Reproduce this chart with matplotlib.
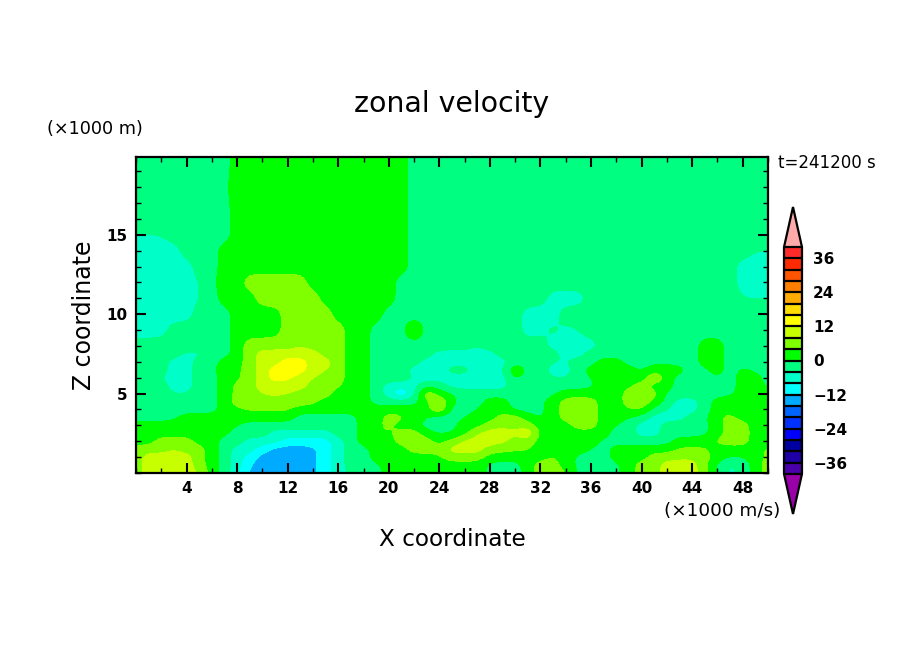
import numpy as np
import matplotlib
matplotlib.use('Agg')
import matplotlib.pyplot as plt
from matplotlib.colors import ListedColormap
from matplotlib.ticker import MultipleLocator

W, H = 904, 654

x_km = list(range(51))
z_km = [0, 0.5, 1, 1.5, 2, 2.5, 3, 3.5, 4, 4.5, 5, 5.5, 6, 6.5, 7, 7.5, 8,
        9, 10, 11, 12, 13, 14, 15, 16, 18, 20]

# u velocity, one row per z level, bottom row first
u_rows = [
    [6,10,10,10,10,8,2,-2,-8,-13,-14,-14,-14,-14,-13,-10,-6,-3,-2,-2,2,2,2,2,2,2,2,2,-1,-2,-2,2,6,6,4.5,-1,-2,-2,-1,2,6,6,10,10,10,6,-1,-5,-3,2,6],
    [6,10,10,10,10,6,2,-2,-6,-12,-14,-14,-14,-14,-13,-10,-6,-2,-2,-1,2,2,2,2,2,2,2,2,-1,-2,-2,2,6,6,2,-1,-2,-2,-1,2,6,6,10,10,10,5,-1,-5,-3,2,6],
    [6,10,10,10,10,5,2,-2,-6,-10,-14,-14,-14,-14,-13,-10,-6,-2,-2,2,2,2,2,2,3,6,6,6,2,2,2,2,2,4.5,2,-1,-2,-2,2,2,2,6,6,7,7,6,2,0,0,2,5],
    [6,6,6,8,6,6,2,-2,-6,-6,-10,-14,-14,-14,-13,-10,-6,-2,-2,2,2,2,6,6,6,10,10,10,6,5,4.5,4.5,2,2,2,2,0,-2,2,2,2,2,2,4.5,4.5,4.5,2,2,2,2,5],
    [2,2,6,6,6,2,2,-2,-2,-6,-6,-6,-10,-10,-10,-10,-6,-2,2,4,2,6,6,6,2,5,9,10,10,9,6,6,2,2,2,2,2,-1,-2,-2,-2,-2,-2,2,2,2,5,6,6,2,2],
    [2,2,2,2,2,2,2,1,-2,-2,-2,-6,-6,-6,-6,-6,-2,-2,2,5,3,6,6,2,0,0,2,8,10,11,8,13,2,2,2,2,2,2,-2,-2,-6,-6,-2,-2,-2,-1,2,6,6,2,2],
    [2,2,2,2,2,2,2,2,0,-2,-2,-2,-2,-2,-2,-2,-2,-2,2,3,5,2,2,-2,-5,-1,2,2,6,6,7,6,2,2,2,6,6,2,0,-2,-6,-6,-2,-2,-2,-1,2,6,6,2,2],
    [-2,-2,-2,-1,2,2,2,2,2,2,2,2,2,-2,-2,-2,-2,-2,2,2,6,5,2,0,-2,-2,0,2,2,6,6,2,-1,2,6,6,6,2,2,0,-2,-6,-6,-6,-2,-1,3,6,2,2,2],
    [-2,-2,-2,-2,-2,-2,-2,2,3,4.5,4.5,4.5,4.5,2,2,2,2,2,2,2,2,2,2,2,9,-2,-2,0,2,2,-1,-2,-1,2,6,6,6,2,2,4,5,-2,-4,-6,-6,-2,2,2,-1,2,2],
    [-2,-2,-2,-2,-2,-2,-2,2,6,6,6,6,6,6,5,2,2,2,2,-2,-2,-2,-2,3,9,1,-2,-2,2,2,-2,-2,-1,2,6,6,6,2,2,6,6,4,-2,-6,-6,-2,2,2,2,2,2],
    [-2,-2,-2,-4,-4,-2,-2,2,5,6,8,9,8,6,6,6,2,2,2,-2,-6,-14,-5,9,2,0,-2,-2,-2,-2,-2,-2,-2,-1,2,2,2,2,2,6,6,6,-1,-2,-2,-2,-2,-1,2,2,2],
    [-2,-2,-2,-6,-6,-2,-2,2,5,6,10,10,10,10,6,6,4.5,2,2,-2,-6,-6,-6,-2,-2,-6,-6,-6,-6,-6,-2,-2,-2,-2,-2,-2,-1,2,2,3,6,2,2,-2,-2,-2,-2,-2,2,2,-1],
    [-2,-2,-4,-6,-6,-2,-2,2,3,6,10,14,13,10,8,6,6,2,2,-2,-2,-2,-4,-6,-6,-6,-6,-6,-6,-6,1,-2,-2,-4,-4,-2,0,2,2,2,2,9,2,-2,-2,-2,0,-2,2,2,-2],
    [-2,-2,-2,-6,-6,-2,-1,2,3,6,10,14,14,14,10,8,6,2,2,-2,-2,-2,-6,-6,-6,-2,-2,-6,-6,-5,5,-2,-2,-6,-6,-2,2,2,2,2,-1,2,2,2,-2,-1,2,-2,1,-1,-2],
    [-2,-2,-2,-6,-6,-2,-2,2,2,6,10,10,14,14,10,10,6,2,2,-2,-2,-2,-2,-6,-6,-6,-6,-6,-6,-6,-2,-2,-2,-4,-4,-2,-2,2,2,-2,-2,-1,-1,-2,-2,2,2,-2,-2,-2,-2],
    [-2,-2,-2,-2,-5,-5,-2,-2,2,6,10,10,10,10,10,6,6,2,2,-2,-2,-2,-2,-2,-6,-6,-6,-6,-6,-2,-2,-2,-2,-2,-6,-6,-2,-2,-2,-2,-2,-2,-2,-2,-2,2,2,-2,-2,-2,-2],
    [-2,-2,-2,-2,-2,-2,-2,-2,2,6,6,6,6,8,6,6,6,2,2,-2,-2,-2,-2,-2,-2,-2,-2,-4,-2,-2,-2,-2,-2,-6,-6,-6,-6,-2,-2,-2,-2,-2,-2,-2,-2,2,2,-2,-2,-2,-2],
    [-6,-6,-6,-2,-2,-2,-2,-2,2,2,2,2,6,6,6,6,6,2,2,-2,-2,-2,5,-2,-2,-2,-2,-2,-2,-2,-2,-6,-5,-3,-5,-4,-2,-2,-2,-2,-2,-2,-2,-2,-2,-2,-2,-2,-2,-2,-2],
    [-6,-6,-6,-6,-6,-2,-2,-2,2,2,2,2,6,6,6,6,2,2,2,2,-2,-2,-2,-2,-2,-2,-2,-2,-2,-2,-2,-6,-6,-6,-2,-2,-2,-2,-2,-2,-2,-2,-2,-2,-2,-2,-2,-2,-2,-2,-2],
    [-6,-6,-6,-6,-6,-4,-2,2,2,2,6,6,6,6,6,2,2,2,2,2,2,-2,-2,-2,-2,-2,-2,-2,-2,-2,-2,-2,-2,-6,-6,-6,-2,-2,-2,-2,-2,-2,-2,-2,-2,-2,-2,-2,-4,-4,-4],
    [-6,-6,-6,-6,-6,-4,-1,2,2,6,6,6,6,6,2,2,2,2,2,2,2,-2,-2,-2,-2,-2,-2,-2,-2,-2,-2,-2,-2,-2,-2,-2,-2,-2,-2,-2,-2,-2,-2,-2,-2,-2,-2,-2,-6,-6,-6],
    [-6,-6,-6,-6,-6,-2,-2,2,2,2,2,2,2,2,2,2,2,2,2,2,2,2,-2,-2,-2,-2,-2,-2,-2,-2,-2,-2,-2,-2,-2,-2,-2,-2,-2,-2,-2,-2,-2,-2,-2,-2,-2,-2,-6,-6,-6],
    [-6,-6,-6,-6,-2,-2,-2,2,2,2,2,2,2,2,2,2,2,2,2,2,2,2,-2,-2,-2,-2,-2,-2,-2,-2,-2,-2,-2,-2,-2,-2,-2,-2,-2,-2,-2,-2,-2,-2,-2,-2,-2,-2,-2,-4,-4],
    [-4,-4,-4,-2,-2,-2,-2,-2,2,2,2,2,2,2,2,2,2,2,2,2,2,2,-2,-2,-2,-2,-2,-2,-2,-2,-2,-2,-2,-2,-2,-2,-2,-2,-2,-2,-2,-2,-2,-2,-2,-2,-2,-2,-2,-2,-2],
    [-2,-2,-2,-2,-2,-2,-2,-2,2,2,2,2,2,2,2,2,2,2,2,2,2,2,-2,-2,-2,-2,-2,-2,-2,-2,-2,-2,-2,-2,-2,-2,-2,-2,-2,-2,-2,-2,-2,-2,-2,-2,-2,-2,-2,-2,-2],
    [-2,-2,-2,-2,-2,-2,-2,-1,2,2,2,2,2,2,2,2,2,2,2,2,2,2,-2,-2,-2,-2,-2,-2,-2,-2,-2,-2,-2,-2,-2,-2,-2,-2,-2,-2,-2,-2,-2,-2,-2,-2,-2,-2,-2,-2,-2],
    [-2,-2,-2,-2,-2,-2,-2,-2,2,2,2,2,2,2,2,2,2,2,2,2,2,2,-2,-2,-2,-2,-2,-2,-2,-2,-2,-2,-2,-2,-2,-2,-2,-2,-2,-2,-2,-2,-2,-2,-2,-2,-2,-2,-2,-2,-2],
]

levels = list(range(-40, 44, 4))
bin_colors = ['#4a00aa', '#1e00a5', '#0000a0', '#0000ff', '#0032ff', '#0064ff',
              '#00aaff', '#00ffff', '#00ffc8', '#00ff80', '#00ff00', '#80ff00',
              '#c8ff00', '#ffff00', '#ffdc00', '#ffaa00', '#ff8000', '#ff5500',
              '#ff2a00', '#ff2a2a']
under_color = '#9900aa'
over_color = '#ffaaaa'
bar_ticks = [-36, -24, -12, 0, 12, 24, 36]
x_ticks = list(range(4, 50, 4))
z_ticks = [5, 10, 15]


def soften(a, axis, n):
    # round off the corners of the contours, the field stays on its own grid
    kernel = np.exp(-0.5 * (np.arange(-6, 7) / n) ** 2)
    kernel = kernel / kernel.sum()
    def run(v):
        return np.convolve(np.pad(v, 6, mode='edge'), kernel, mode='valid')
    return np.apply_along_axis(run, axis, a)


u = np.array(u_rows, dtype=float)
x_fine = np.arange(0, 50.01, 0.25)
z_fine = np.arange(0, 20.01, 0.125)
u_fine = np.array([np.interp(x_fine, x_km, row) for row in u])
u_fine = np.array([np.interp(z_fine, z_km, col) for col in u_fine.T]).T
u_fine = soften(soften(u_fine, 1, 1.6), 0, 1.6)

cmap = ListedColormap(bin_colors)
cmap.set_under(under_color)
cmap.set_over(over_color)

fig = plt.figure(figsize=(W / 100, H / 100), dpi=100)
ax = fig.add_axes([136 / W, 1 - 473 / H, (768 - 136) / W, (473 - 157) / H])

cs = ax.contourf(x_fine, z_fine, u_fine, levels=levels, cmap=cmap,
                 extend='both', antialiased=False)
ax.set_xlim(0, 50)
ax.set_ylim(0, 19.9)

ax.set_xticks(x_ticks)
ax.set_yticks(z_ticks)
ax.xaxis.set_minor_locator(MultipleLocator(2))
ax.yaxis.set_minor_locator(MultipleLocator(1))
ax.tick_params(which='major', direction='in', top=True, right=True, length=7,
               width=1.5, labelsize=11, pad=6)
ax.tick_params(which='minor', direction='in', top=True, right=True, length=3.5,
               width=1)
for lab in ax.get_xticklabels() + ax.get_yticklabels():
    lab.set_fontweight('bold')
for s in ax.spines.values():
    s.set_linewidth(1.6)
    s.set_zorder(5)

# the triangles sit inside the colorbar axes
cax = fig.add_axes([784 / W, 1 - 514 / H, 18 / W, (514 - 207) / H])
cb = fig.colorbar(cs, cax=cax, ticks=bar_ticks, extendfrac=40 / 226, drawedges=True)
cb.outline.set_linewidth(1.6)
cb.dividers.set_color('k')
cb.dividers.set_linewidth(1.6)
cb.ax.tick_params(length=0, labelsize=11, pad=8)
for lab in cb.ax.get_yticklabels():
    lab.set_fontweight('bold')


def px_text(px, py, s, **kw):
    fig.text(px / W, 1 - py / H, s, ha='center', va='center', **kw)


px_text(452, 104, 'zonal velocity', fontsize=20.4)
px_text(452, 539, 'X coordinate', fontsize=16.7)
px_text(84, 315, 'Z coordinate', fontsize=17, rotation=90)
px_text(95, 129, '(\u00d71000 m)', fontsize=12.7)
px_text(722, 511, '(\u00d71000 m/s)', fontsize=13.2)
px_text(827, 163, 't=241200 s', fontsize=12)

fig.savefig('out.png', dpi=100)
